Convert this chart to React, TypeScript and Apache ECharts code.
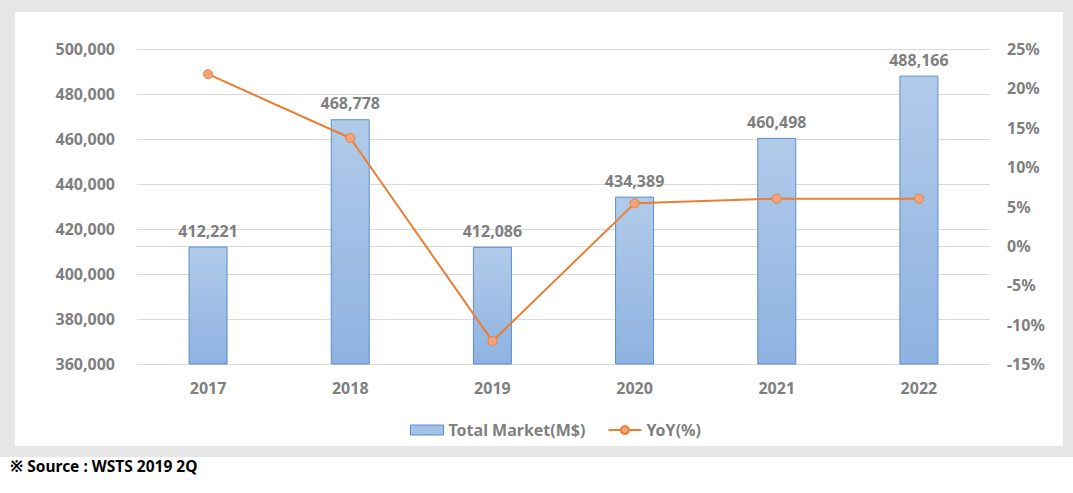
import React, { useEffect, useRef } from "react";
import * as echarts from "echarts";

const categories = ["2017", "2018", "2019", "2020", "2021", "2022"];
const totalMarket = [412221, 468778, 412086, 434389, 460498, 488166];
const yoy = [21.8, 13.7, -12.1, 5.4, 6.0, 6.0];
const sourceText = "※ Source : WSTS 2019 2Q";

export default function App() {
  const ref = useRef<HTMLDivElement>(null);
  useEffect(() => {
    if (!ref.current) return;
    const chart = echarts.init(ref.current, null, { renderer: "svg" });
    const font = "'Noto Sans', 'Open Sans', sans-serif";
    const gray = "#7f7f7f";
    chart.setOption({
      animation: false,
      textStyle: { fontFamily: font },
      grid: { left: 137, right: 83, top: 49, bottom: 129 },
      legend: {
        left: 405,
        top: 417,
        itemGap: 22,
        textStyle: { color: gray, fontWeight: "bold", fontSize: 16, fontFamily: font },
        data: [
          { name: "Total Market(M$)", icon: "rect", itemStyle: { color: "#a4c2e8", borderColor: "#5b8ec9", borderWidth: 1 } },
          { name: "YoY(%)" },
        ],
        itemWidth: 33,
        itemHeight: 10,
      },
      xAxis: {
        type: "category",
        data: categories,
        axisLine: { show: true, lineStyle: { color: "#d9d9d9" } },
        axisTick: { show: false },
        axisLabel: { color: gray, fontWeight: "bold", fontSize: 16, margin: 16, fontFamily: font },
      },
      yAxis: [
        {
          type: "value",
          min: 360000,
          max: 500000,
          interval: 20000,
          axisLine: { show: false },
          axisTick: { show: false },
          splitLine: { lineStyle: { color: "#d9d9d9" } },
          axisLabel: {
            color: gray,
            fontWeight: "bold",
            fontSize: 16,
            margin: 22,
            fontFamily: font,
            formatter: (v: number) => v.toLocaleString("en-US"),
          },
        },
        {
          type: "value",
          min: -15,
          max: 25,
          interval: 5,
          axisLine: { show: false },
          axisTick: { show: false },
          splitLine: { show: false },
          axisLabel: {
            color: gray,
            fontWeight: "bold",
            fontSize: 16,
            margin: 17,
            fontFamily: font,
            formatter: (v: number) => `${v}%`,
          },
        },
      ],
      series: [
        {
          name: "Total Market(M$)",
          type: "bar",
          data: totalMarket,
          barWidth: 39,
          itemStyle: {
            color: new echarts.graphic.LinearGradient(0, 0, 0, 1, [
              { offset: 0, color: "#b1cbea" },
              { offset: 1, color: "#8eb2e1" },
            ]),
            borderColor: "#5b8ec9",
            borderWidth: 1,
          },
          label: {
            show: true,
            position: "top",
            distance: 8,
            color: gray,
            fontWeight: "bold",
            fontSize: 16,
            fontFamily: font,
            formatter: (p: any) => Number(p.value).toLocaleString("en-US"),
          },
        },
        {
          name: "YoY(%)",
          type: "line",
          yAxisIndex: 1,
          data: yoy,
          symbol: "circle",
          symbolSize: 9,
          lineStyle: { color: "#ed7d31", width: 2 },
          itemStyle: { color: "#f4a47a", borderColor: "#ed7d31", borderWidth: 1 },
          z: 5,
        },
      ],
      graphic: [
        {
          type: "text",
          left: 10,
          top: 458,
          style: {
            text: sourceText,
            fill: "#000000",
            font: `bold 15.5px ${font}`,
          },
        },
      ],
    });
    return () => chart.dispose();
  }, []);

  return (
    <div style={{ position: "fixed", left: 0, top: 0, width: 1073, height: 493, background: "#ffffff" }}>
      <div style={{ position: "absolute", left: 0, top: 0, width: 1073, height: 457, background: "#e6e6e6" }} />
      <div style={{ position: "absolute", left: 15, top: 12, width: 1048, height: 434, background: "#ffffff" }} />
      <div ref={ref} style={{ position: "absolute", left: 0, top: 0, width: 1073, height: 493 }} />
    </div>
  );
}
